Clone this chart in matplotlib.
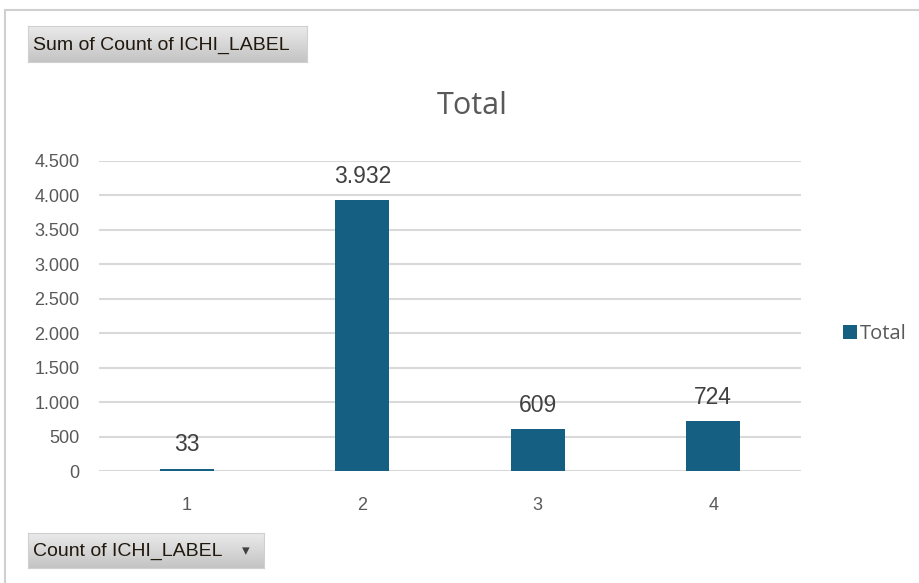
import matplotlib.pyplot as plt
from matplotlib.lines import Line2D
from matplotlib.colors import LinearSegmentedColormap
import numpy as np

categories = ['1', '2', '3', '4']
totals = [33, 3932, 609, 724]
y_ticks = [0, 500, 1000, 1500, 2000, 2500, 3000, 3500, 4000, 4500]

bar_color = '#156082'
grid_color = '#D9D9D9'
tick_color = '#595959'
num_font = ['Liberation Sans', 'DejaVu Sans']
head_font = ['Open Sans', 'DejaVu Sans']
btn_font = ['Liberation Sans', 'DejaVu Sans']


def fmt(v):
    return f"{v:,}".replace(",", ".")


fig = plt.figure(figsize=(9.2, 5.83), dpi=100)
W, H = 920, 583

# outer frame (only top and left edges visible)
fig.add_artist(Line2D([5 / W, 1], [1 - 10 / H, 1 - 10 / H], transform=fig.transFigure,
                      color='#D0D0D0', linewidth=1.5))
fig.add_artist(Line2D([5 / W, 5 / W], [0, 1 - 10 / H], transform=fig.transFigure,
                      color='#D0D0D0', linewidth=1.5))

btn_cmap = LinearSegmentedColormap.from_list('btn', ['#C4C4C4', '#EAEAEA'])


def field_button(x0, y0, x1, y1, label, arrow=False):
    # gray pivot field button, coords in pixels from top-left
    grad = np.linspace(1, 0, 50).reshape(-1, 1)
    bax = fig.add_axes([x0 / W, 1 - y1 / H, (x1 - x0) / W, (y1 - y0) / H])
    bax.imshow(grad, aspect='auto', cmap=btn_cmap, vmin=0, vmax=1, extent=[0, 1, 0, 1])
    bax.set_xlim(0, 1)
    bax.set_ylim(0, 1)
    bax.set_xticks([])
    bax.set_yticks([])
    for s in bax.spines.values():
        s.set_color('#D0D0D0')
    bax.text(5 / (x1 - x0), 0.47, label, fontsize=14, family=btn_font,
             color='#21180E', va='center', ha='left')
    if arrow:
        bax.text(1 - 18 / (x1 - x0), 0.5, '\u25BE', fontsize=11, color='#404040', va='center', ha='center')


field_button(28, 26, 307, 62, 'Sum of Count of ICHI_LABEL')
field_button(28, 533, 264, 568, 'Count of ICHI_LABEL', arrow=True)

ax = fig.add_axes([99 / W, 1 - 471 / H, (801 - 99) / W, (471 - 161) / H])
x = np.arange(1, len(categories) + 1)
bars = ax.bar(x, totals, width=0.31, color=bar_color, zorder=3, label='Total')

ax.set_xlim(0.5, 4.5)
ax.set_ylim(0, 4500)
ax.set_yticks(y_ticks)
ax.set_yticklabels([fmt(v) for v in y_ticks], family=num_font)
ax.set_xticks(x)
ax.set_xticklabels(categories, family=num_font)
ax.grid(axis='y', color=grid_color, linewidth=1.5, zorder=0)
ax.tick_params(length=0, labelsize=13, colors=tick_color)
ax.tick_params(axis='x', pad=19)
ax.tick_params(axis='y', pad=14)
for s in ax.spines.values():
    s.set_visible(False)

for xi, v in zip(x, totals):
    ax.annotate(fmt(v), (xi, v), xytext=(0, 9), textcoords='offset points',
                ha='center', va='bottom', fontsize=16.5, color='#404040', family=num_font)

fig.text(472 / W, 1 - 106 / H, 'Total', fontsize=22, color='#595959', ha='center', va='center',
         family=head_font)

ax.legend(loc='center left', bbox_to_anchor=(825 / W, 1 - 334 / H), bbox_transform=fig.transFigure,
          frameon=False, prop={'family': head_font, 'size': 14.5}, labelcolor='#595959',
          handlelength=0.7, handleheight=0.7, handletextpad=0.15)

fig.savefig('out.png', dpi=100)
